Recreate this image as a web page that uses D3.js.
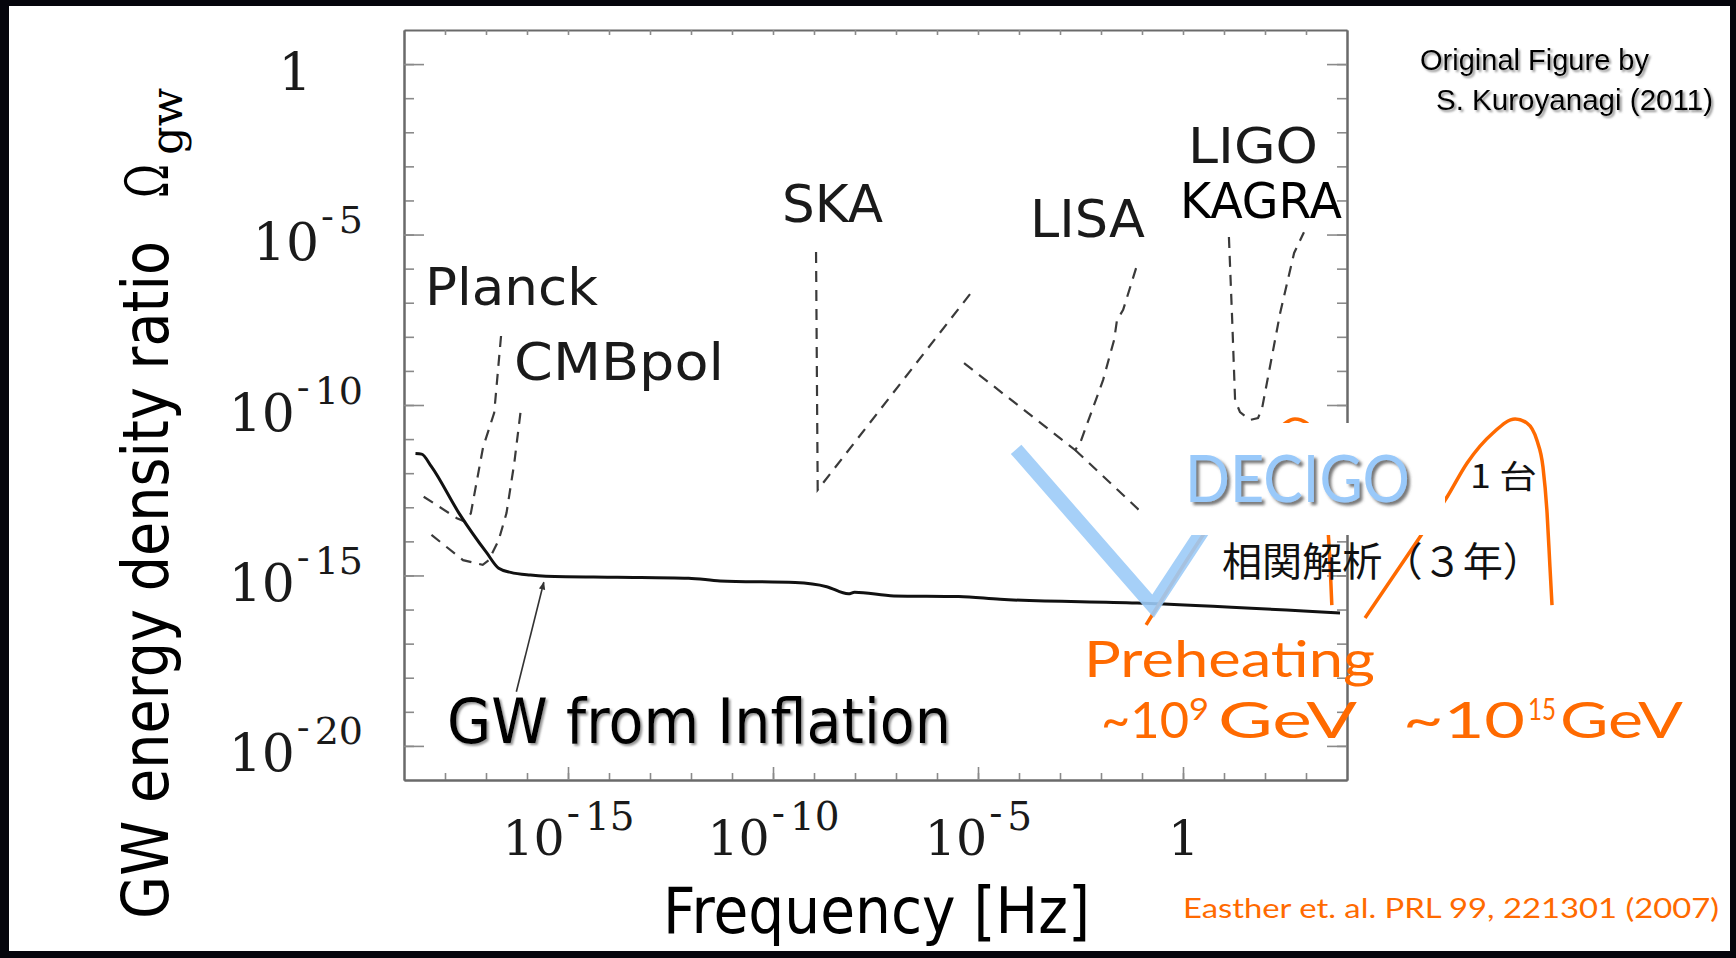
<!DOCTYPE html>
<html>
<head>
<meta charset="utf-8">
<script src="https://cdn.jsdelivr.net/npm/d3@7"></script>
<style>
  html, body { margin: 0; padding: 0; background: #05050c; }
  svg { display: block; }
</style>
</head>
<body>
<div id="chart"></div>
<script>
// all curve values are log10(frequency [Hz]) and log10(Omega_gw)
let xTickExps = [-15, -10, -5, 0];
let yTickExps = [0, -5, -10, -15, -20];

let inflationLogF = [-18.72, -18.57, -18.33, -17.66, -16.98, -16.69, -16.40, -15.92, -15.54, -13.80, -12.06,
                     -11.29, -9.46, -8.69, -8.16, -8.01, -7.05, -5.47, -4.46, -1.12, 3.83];
let inflationLogO = [-11.42, -11.44, -11.81, -13.17, -14.34, -14.79, -14.91, -14.99, -15.02, -15.05, -15.08,
                     -15.16, -15.21, -15.33, -15.54, -15.49, -15.60, -15.62, -15.70, -15.81, -16.10];

let planckLogF = [-18.52, -17.71, -17.51, -17.37, -17.07, -16.80, -16.62];
let planckLogO = [-12.69, -13.32, -13.42, -13.18, -11.23, -10.23, -7.80];

let cmbpolLogF = [-18.33, -17.56, -17.08, -16.93, -16.69, -16.50, -16.31, -16.16];
let cmbpolLogO = [-13.81, -14.55, -14.69, -14.55, -13.96, -13.17, -11.70, -10.23];

let skaLogF = [-8.95, -8.91, -5.08];
let skaLogO = [-5.51, -12.49, -6.57];

let lisaLogF = [-5.34, -2.63, -2.51, -2.24, -1.95, -1.68, -1.61, -1.46, -1.12];
let lisaLogO = [-8.77, -11.32, -11.12, -10.23, -9.27, -8.09, -7.51, -7.21, -5.89];

let decigoDashLogF = [-2.63, -1.02, -0.90];
let decigoDashLogO = [-11.32, -13.14, -13.30];

let ligoLogF = [1.12, 1.20, 1.27, 1.39, 1.63, 1.83, 1.93, 2.37, 2.71, 2.95];
let ligoLogO = [-5.07, -7.51, -9.85, -10.21, -10.44, -10.38, -10.09, -7.30, -5.54, -4.93];

let decigoLogF = [-4.07, -0.73, 1.15];
let decigoLogO = [-11.30, -15.90, -12.46];

let preheat9LogF = [-0.90, 0.41, 1.07, 1.56, 2.20, 2.73, 3.02, 3.27, 3.41, 3.51, 3.59, 3.63];
let preheat9LogO = [-16.45, -13.96, -12.79, -11.76, -10.85, -10.41, -10.53, -11.03, -11.82, -13.17, -14.75, -15.87];

let preheat15LogF = [4.44, 5.78, 6.44, 6.93, 7.56, 8.10, 8.39, 8.63, 8.78, 8.88, 8.95, 9.00];
let preheat15LogO = [-16.25, -13.87, -12.70, -11.70, -10.82, -10.41, -10.53, -11.03, -11.82, -13.17, -14.75, -15.87];

let arrowLogF = [-16.26, -15.59];
let arrowLogO = [-18.41, -15.20];

// ---- layout ----
let W = 1736, H = 958;
let plot = {left: 404, right: 1347, top: 30, bottom: 780};

let x = d3.scaleLog().domain([1e-19, 1e4]).range([plot.left, plot.right]);
let y = d3.scaleLog().domain([1e-21, 1e1]).range([plot.bottom, plot.top]);

let pts = (f, o) => d3.zip(f, o);
let line = d3.line()
    .x(function(d) { return x(Math.pow(10, d[0])); })
    .y(function(d) { return y(Math.pow(10, d[1])); });
let smooth = d3.line()
    .x(function(d) { return x(Math.pow(10, d[0])); })
    .y(function(d) { return y(Math.pow(10, d[1])); })
    .curve(d3.curveMonotoneX);

let svg = d3.select("#chart").append("svg")
    .attr("width", W)
    .attr("height", H);

let defs = svg.append("defs");
defs.append("filter").attr("id", "shadow")
    .attr("x", "-10%").attr("y", "-20%").attr("width", "130%").attr("height", "150%")
    .append("feDropShadow")
    .attr("dx", 2).attr("dy", 2).attr("stdDeviation", 1.2)
    .attr("flood-color", "#666").attr("flood-opacity", 0.7);
defs.append("filter").attr("id", "shadowBlue")
    .attr("x", "-10%").attr("y", "-20%").attr("width", "130%").attr("height", "150%")
    .append("feDropShadow")
    .attr("dx", 3).attr("dy", 3).attr("stdDeviation", 1.5)
    .attr("flood-color", "#555").attr("flood-opacity", 0.8);
defs.append("marker").attr("id", "arrowHead")
    .attr("viewBox", "0 0 10 10").attr("refX", 9).attr("refY", 5)
    .attr("markerWidth", 5).attr("markerHeight", 5)
    .attr("markerUnits", "strokeWidth")
    .attr("orient", "auto")
    .append("path").attr("d", "M0,1L10,5L0,9Z").attr("fill", "#333");

// white slide on the dark background
svg.append("rect")
    .attr("x", 9).attr("y", 6).attr("width", 1721).attr("height", 945)
    .attr("fill", "#fff");

// ---- axes / frame ----
let xMinor = d3.range(-18, 4).map(function(e) { return Math.pow(10, e); });
let xMajor = xTickExps.map(function(e) { return Math.pow(10, e); });
let yMinor = d3.range(-20, 1).map(function(e) { return Math.pow(10, e); });
let yMajor = yTickExps.map(function(e) { return Math.pow(10, e); });

function styleAxis(g) {
    g.select(".domain").attr("stroke", "#6a6a6a").attr("stroke-width", 2);
    g.selectAll(".tick line").attr("stroke", "#8a8a8a").attr("stroke-width", 1.6);
}

svg.append("g").attr("transform", "translate(0," + plot.top + ")")
    .call(d3.axisTop(x).tickValues(xMinor).tickSize(-5).tickSizeOuter(0).tickFormat(""))
    .call(styleAxis);
svg.append("g").attr("transform", "translate(" + plot.right + ",0)")
    .call(d3.axisRight(y).tickValues(yMinor).tickSize(-10).tickSizeOuter(0).tickFormat(""))
    .call(styleAxis);
svg.append("g").attr("transform", "translate(" + plot.right + ",0)")
    .call(d3.axisRight(y).tickValues(yMajor).tickSize(-20).tickSizeOuter(0).tickFormat(""))
    .call(styleAxis);
svg.append("g").attr("transform", "translate(0," + plot.bottom + ")")
    .call(d3.axisBottom(x).tickValues(xMinor).tickSize(-7).tickSizeOuter(0).tickFormat(""))
    .call(styleAxis);
svg.append("g").attr("transform", "translate(" + plot.left + ",0)")
    .call(d3.axisLeft(y).tickValues(yMinor).tickSize(-10).tickSizeOuter(0).tickFormat(""))
    .call(styleAxis);

// power-of-ten labels: "10" then a raised "-n"
function powerLabel(sel, supSize, supDy) {
    sel.each(function(d) {
        let e = Math.round(Math.log10(d));
        let t = d3.select(this).text(null);
        if (e === 0) { t.text("1"); return; }
        t.append("tspan").text("10");
        t.append("tspan").attr("font-size", supSize).attr("dx", 2).attr("dy", supDy - 4).text("-");
        t.append("tspan").attr("font-size", supSize).attr("dx", 5).attr("dy", 4).text(-e);
    });
}

let xAxisG = svg.append("g").attr("transform", "translate(0," + plot.bottom + ")")
    .call(d3.axisBottom(x).tickValues(xMajor).tickSize(-13).tickSizeOuter(0).tickPadding(0));
xAxisG.call(styleAxis);
xAxisG.attr("font-family", "'DejaVu Serif', serif").attr("font-size", 49);
xAxisG.selectAll(".tick text")
    .attr("fill", "#1a1a1a").attr("dy", 75).attr("y", 0)
    .call(powerLabel, 39, -25);

let yAxisG = svg.append("g").attr("transform", "translate(" + plot.left + ",0)")
    .call(d3.axisLeft(y).tickValues(yMajor).tickSize(-20).tickSizeOuter(0).tickPadding(41));
yAxisG.call(styleAxis);
yAxisG.attr("font-family", "'DejaVu Serif', serif").attr("font-size", 52);
yAxisG.selectAll(".tick text")
    .attr("fill", "#1a1a1a").attr("dy", 25)
    .call(powerLabel, 38, -27);
yAxisG.selectAll(".tick text").filter(function(d) { return d === 1; })
    .attr("text-anchor", "middle").attr("x", -109);

// ---- curves ----
let dashed = [
    pts(planckLogF, planckLogO), pts(cmbpolLogF, cmbpolLogO), pts(skaLogF, skaLogO),
    pts(lisaLogF, lisaLogO), pts(decigoDashLogF, decigoDashLogO), pts(ligoLogF, ligoLogO)
];
svg.append("g").selectAll("path")
    .data(dashed)
    .enter().append("path")
    .attr("d", line)
    .attr("fill", "none")
    .attr("stroke", "#3a3a3a")
    .attr("stroke-width", 2.2)
    .attr("stroke-dasharray", "11,8");

svg.append("path")
    .attr("d", smooth(pts(inflationLogF, inflationLogO)))
    .attr("fill", "none")
    .attr("stroke", "#111")
    .attr("stroke-width", 3);

svg.append("path")
    .attr("d", line(pts(arrowLogF, arrowLogO)))
    .attr("fill", "none")
    .attr("stroke", "#333")
    .attr("stroke-width", 1.6)
    .attr("marker-end", "url(#arrowHead)");

svg.append("g").selectAll("path")
    .data([pts(preheat9LogF, preheat9LogO), pts(preheat15LogF, preheat15LogO)])
    .enter().append("path")
    .attr("d", smooth)
    .attr("fill", "none")
    .attr("stroke", "#ff6a00")
    .attr("stroke-width", 3.5);

svg.append("path")
    .attr("d", line(pts(decigoLogF, decigoLogO)))
    .attr("fill", "none")
    .attr("stroke", "#9ccbf7")
    .attr("stroke-opacity", 0.9)
    .attr("stroke-width", 14)
    .attr("stroke-linejoin", "miter");

// white patch behind the DECIGO label
svg.append("rect")
    .attr("x", 1139).attr("y", 423).attr("width", 306).attr("height", 112)
    .attr("fill", "#fff");

// ---- text ----
function label(txt, px, py, size, opts) {
    opts = opts || {};
    let t = svg.append("text")
        .attr("x", px).attr("y", py)
        .attr("font-family", opts.font || "'DejaVu Sans', sans-serif")
        .attr("font-size", size)
        .attr("fill", opts.fill || "#1a1a1a")
        .text(txt);
    if (opts.len) t.attr("textLength", opts.len).attr("lengthAdjust", "spacingAndGlyphs");
    if (opts.filter) t.attr("filter", opts.filter);
    if (opts.transform) t.attr("transform", opts.transform);
    return t;
}

// detector names
label("Planck", 425, 305, 52, {len: 173});
label("CMBpol", 514, 380, 52, {len: 210});
label("SKA", 782, 222, 52, {len: 101});
label("LISA", 1030, 237, 52, {len: 115});
label("LIGO", 1188, 163, 50, {len: 130});
label("KAGRA", 1180, 218, 50, {len: 162, fill: "#000"});

label("GW from Inflation", 447, 743, 62, {len: 504, fill: "#000", filter: "url(#shadow)"});

// axis titles
label("Frequency [Hz]", 663, 933, 64, {len: 427, fill: "#000"});
label("GW energy density ratio", 0, 0, 64,
    {len: 678, fill: "#000", transform: "translate(168,919) rotate(-90)"});
label("\u03A9", 0, 0, 60,
    {len: 34, fill: "#000", font: "'DejaVu Serif', serif", transform: "translate(168,198) rotate(-90)"});
label("gw", 0, 0, 44,
    {len: 67, fill: "#000", font: "'DejaVu Serif', serif", transform: "translate(182,155) rotate(-90)"});

// credits
let credit = {fill: "#000", font: "'Liberation Sans', Arial, sans-serif", filter: "url(#shadow)"};
label("Original Figure by", 1420, 70, 30, Object.assign({len: 229}, credit));
label("S. Kuroyanagi (2011)", 1436, 110, 30, Object.assign({len: 277}, credit));
label("Easther et. al. PRL 99, 221301  (2007)", 1183, 918, 26,
    {len: 536, fill: "#ff6a00", font: "Lato, sans-serif"});

// preheating annotations
let orange = {fill: "#ff6a00", font: "Lato, sans-serif"};
label("Preheating", 1084, 677, 50, Object.assign({len: 291}, orange));
label("~10", 1101, 738, 50, Object.assign({len: 88}, orange));
label("9", 1189, 720, 30, Object.assign({len: 20}, orange));
label("GeV", 1218, 738, 50, Object.assign({len: 139}, orange));
label("~10", 1403, 738, 50, Object.assign({len: 122}, orange));
label("15", 1528, 720, 30, Object.assign({len: 28}, orange));
label("GeV", 1560, 738, 50, Object.assign({len: 123}, orange));

// DECIGO
label("DECIGO", 1185, 502, 66, {len: 225, fill: "#99c9fa", font: "Lato, sans-serif", filter: "url(#shadowBlue)"});
label("1 \u53F0", 1470, 488, 32, {len: 67, fill: "#111", font: "'Noto Sans CJK JP', sans-serif"});
label("\u76F8\u95A2\u89E3\u6790\uFF08\uFF13\u5E74\uFF09", 1222, 576, 40,
    {len: 321, fill: "#111", font: "'Noto Sans CJK JP', sans-serif"});
</script>
</body>
</html>
